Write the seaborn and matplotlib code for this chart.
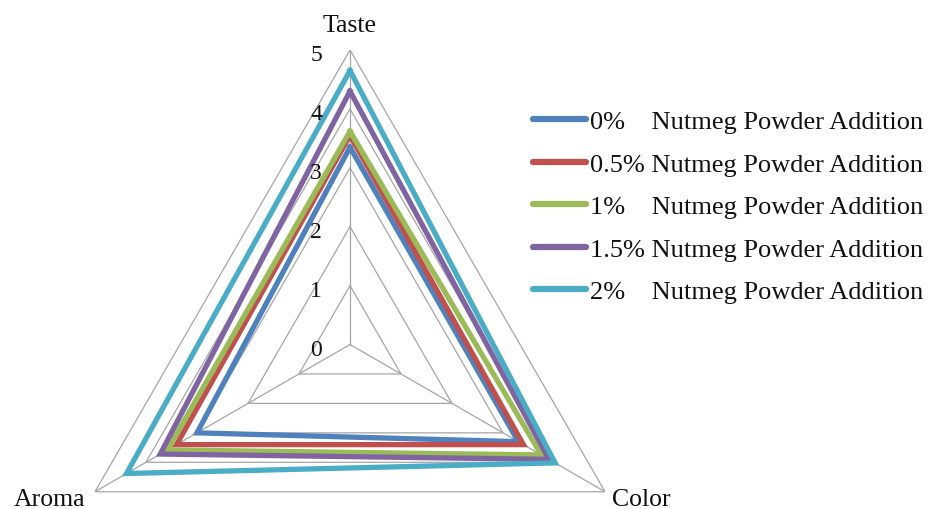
import numpy as np
import pandas as pd
import matplotlib
matplotlib.use("Agg")
import matplotlib.pyplot as plt
import seaborn as sns

# Sensory scores per attribute
attributes = ["Taste", "Color", "Aroma"]
series_names = [
    "0%    Nutmeg Powder Addition",
    "0.5% Nutmeg Powder Addition",
    "1%    Nutmeg Powder Addition",
    "1.5% Nutmeg Powder Addition",
    "2%    Nutmeg Powder Addition",
]
taste = [3.35, 3.55, 3.62, 4.3, 4.65]
color = [3.3, 3.4, 3.75, 3.9, 4.02]
aroma = [3.0, 3.4, 3.58, 3.72, 4.38]
scale_ticks = [0, 1, 2, 3, 4, 5]

palette = ["#4F81BD", "#C0504D", "#9BBB59", "#8064A2", "#4BACC6"]
grid_color = "#A6A6A6"
text_color = "#111111"

sns.set_theme(style="white")
plt.rcParams["font.family"] = ["Liberation Serif", "DejaVu Serif"]

n = len(attributes)
angles = [2 * np.pi * i / n for i in range(n)]

# Long-form table, each polygon closed by repeating its first vertex
rows = []
for name, vals in zip(series_names, zip(taste, color, aroma)):
    for ang, v in zip(angles + [2 * np.pi], list(vals) + [vals[0]]):
        rows.append({"series": name, "theta": ang, "score": v})
df = pd.DataFrame(rows)

fig = plt.figure(figsize=(9.33, 5.10), dpi=100)
cx, cy, rad = 350 / 933, 1 - 345.5 / 510, 294.5
ax = fig.add_axes([cx - rad / 933, cy - rad / 510, 2 * rad / 933, 2 * rad / 510],
                  projection="polar")
ax.set_theta_offset(np.pi / 2)
ax.set_theta_direction(-1)
ax.set_ylim(0, 5)
ax.grid(False)
ax.spines["polar"].set_visible(False)
ax.set_xticks([])
ax.set_yticks([])
ax.patch.set_alpha(0)

# Triangular grid and spokes
closed = angles + [angles[0]]
for lvl in scale_ticks[1:]:
    ax.plot(closed, [lvl] * (n + 1), color=grid_color, lw=0.9, zorder=1)
for ang in angles:
    ax.plot([ang, ang], [0, 5], color=grid_color, lw=0.9, zorder=1)

sns.lineplot(data=df, x="theta", y="score", hue="series", palette=palette,
             sort=False, estimator=None, linewidth=3.8, ax=ax, legend=False,
             solid_joinstyle="miter", solid_capstyle="projecting", zorder=3)
ax.set_xlabel("")
ax.set_ylabel("")

# Scale labels along the Taste spoke
for t in scale_ticks:
    ax.annotate(str(t), xy=(0, t), xytext=(-34, -10), textcoords="offset pixels",
                ha="center", va="baseline", fontsize=17, color=text_color)

# Attribute labels at the outer vertices
label_offsets = {"Taste": ((0, 19), "center"),
                 "Color": ((7, -13), "left"),
                 "Aroma": ((-10, -13), "right")}
for name, ang in zip(attributes, angles):
    off, ha = label_offsets[name]
    ax.annotate(name, xy=(ang, 5), xytext=off, textcoords="offset pixels",
                ha=ha, va="baseline", fontsize=18.5, color=text_color,
                annotation_clip=False)

handles = [plt.Line2D([], [], color=c, lw=4.5, solid_capstyle="round") for c in palette]
leg = fig.legend(handles, series_names, loc="upper left",
                 bbox_to_anchor=(533 / 933, 1 - 111 / 510), frameon=False,
                 fontsize=19, borderpad=0, borderaxespad=0, handlelength=2.0,
                 handletextpad=0.15, labelspacing=0.72)
for txt in leg.get_texts():
    txt.set_color(text_color)

fig.savefig("out.png", dpi=100)
